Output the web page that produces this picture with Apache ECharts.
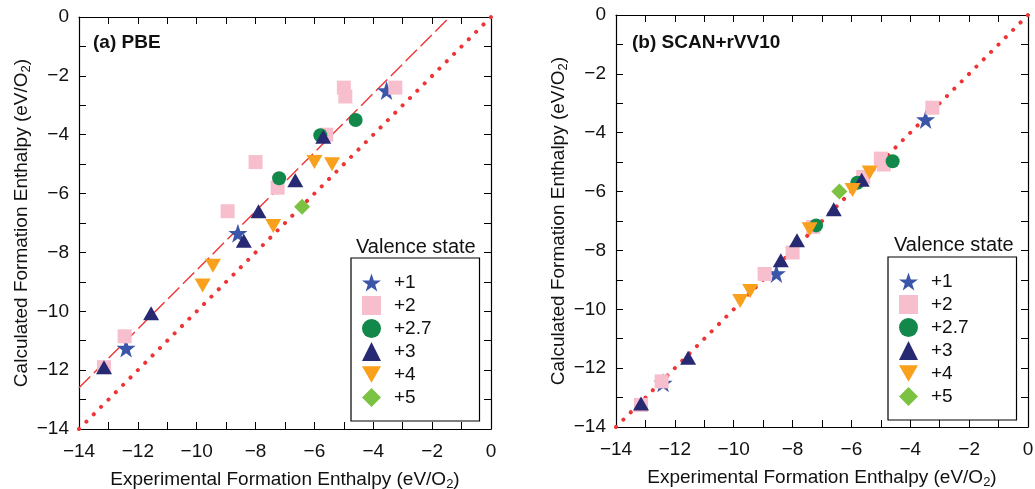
<!DOCTYPE html>
<html>
<head>
<meta charset="utf-8">
<script src="https://cdn.jsdelivr.net/npm/echarts@6.0.0/dist/echarts.min.js"></script>
<style>html,body{margin:0;padding:0;background:#fff;}#c{width:1035px;height:489px;}</style>
</head>
<body>
<div id="c"></div>
<script>
// ---- Data (experimental, calculated) in eV/O2 ----
const valenceNames = ['+1', '+2', '+2.7', '+3', '+4', '+5'];

// (a) PBE
const pbe_v1  = [[-3.55, -2.5], [-8.6, -7.35], [-12.4, -11.25]];
const pbe_v2  = [[-5.0, -2.4], [-4.95, -2.7], [-3.25, -2.4], [-5.6, -4.0], [-8.0, -4.93], [-7.25, -5.8], [-8.95, -6.6], [-12.45, -10.85], [-13.15, -11.9]];
const pbe_v27 = [[-4.6, -3.5], [-5.8, -4.02], [-7.2, -5.48]];
const pbe_v3  = [[-5.7, -4.07], [-6.65, -5.55], [-7.9, -6.6], [-8.4, -7.6], [-11.55, -10.07], [-13.15, -11.9]];
const pbe_v4  = [[-6.0, -4.93], [-5.4, -5.0], [-7.4, -7.1], [-9.45, -8.45], [-9.8, -9.12]];
const pbe_v5  = [[-6.42, -6.45]];

// (b) SCAN+rVV10
const scan_v1  = [[-3.48, -3.55], [-8.55, -8.78], [-12.4, -12.5]];
const scan_v2  = [[-3.25, -3.15], [-5.0, -4.88], [-4.9, -5.08], [-5.6, -5.5], [-7.3, -7.2], [-8.0, -8.07], [-8.95, -8.8], [-12.45, -12.45], [-13.15, -13.25]];
const scan_v27 = [[-4.6, -4.97], [-5.8, -5.7], [-7.2, -7.15]];
const scan_v3  = [[-5.65, -5.6], [-6.6, -6.6], [-7.85, -7.65], [-8.4, -8.33], [-11.55, -11.65], [-13.15, -13.2]];
const scan_v4  = [[-5.38, -5.35], [-5.96, -5.95], [-7.42, -7.28], [-9.44, -9.38], [-9.78, -9.72]];
const scan_v5  = [[-6.41, -6.0]];

// reference lines
const identityLine = [[-14, -14], [0, 0]];
const pbeShiftLine = [[-14, -12.6], [-1.4, 0]];

const axisMin = -14, axisMax = 0;

// ---- Styles ----
const FONT = 'Liberation Sans, Arial, Helvetica, sans-serif';
const STAR = 'path://M50,0 L61.8,35.3 L98.1,35.3 L68.8,57.1 L79.4,91.9 L50,70.5 L20.6,91.9 L31.2,57.1 L1.9,35.3 L38.2,35.3 Z';
const INVTRI = 'path://M0,0 L100,0 L50,88 Z';
const styles = [
  { symbol: STAR, size: 19, color: '#3b55a8' },
  { symbol: 'rect', size: 14, color: '#f7bfcd' },
  { symbol: 'circle', size: 14, color: '#12894a' },
  { symbol: 'triangle', size: [16, 14], color: '#272a72' },
  { symbol: INVTRI, size: [16, 14], color: '#f9a11d' },
  { symbol: 'diamond', size: [16, 16], color: '#7cc242' }
];

const pbeSets = [pbe_v1, pbe_v2, pbe_v27, pbe_v3, pbe_v4, pbe_v5];
const scanSets = [scan_v1, scan_v2, scan_v27, scan_v3, scan_v4, scan_v5];

function fmt(v) {
  if (Math.round(v) % 2 !== 0) return '';
  return String(v).replace('-', '\u2212');
}

const nameStyle = { fontFamily: FONT, fontSize: 19, color: '#111', rich: { s: { fontFamily: FONT, fontSize: 13, color: '#111', padding: [10, 0, 0, 0] } } };

function mainX(grid) {
  return {
    type: 'value', gridIndex: grid, min: axisMin, max: axisMax, interval: 1, position: 'bottom',
    name: 'Experimental Formation Enthalpy (eV/O{s|2})', nameLocation: 'middle', nameGap: 39,
    nameTextStyle: nameStyle,
    axisLine: { show: true, onZero: false, lineStyle: { color: '#000', width: 1.2 } },
    axisTick: { show: true, inside: true, length: 7, lineStyle: { color: '#000', width: 1 } },
    axisLabel: { formatter: fmt, fontFamily: FONT, fontSize: 19, color: '#111', margin: 13, showMinLabel: true, showMaxLabel: true, hideOverlap: false },
    splitLine: { show: false }
  };
}
function mainY(grid, gap) {
  return {
    type: 'value', gridIndex: grid, min: axisMin, max: axisMax, interval: 1, position: 'left',
    name: 'Calculated Formation Enthalpy (eV/O{s|2})', nameLocation: 'middle', nameGap: gap,
    nameTextStyle: nameStyle,
    axisLine: { show: true, onZero: false, lineStyle: { color: '#000', width: 1.2 } },
    axisTick: { show: true, inside: true, length: 7, lineStyle: { color: '#000', width: 1 } },
    axisLabel: { formatter: fmt, fontFamily: FONT, fontSize: 19, color: '#111', margin: 10, showMinLabel: true, showMaxLabel: true, hideOverlap: false },
    splitLine: { show: false }
  };
}
function mirror(grid, pos) {
  return {
    type: 'value', gridIndex: grid, min: axisMin, max: axisMax, interval: 1, position: pos,
    axisLine: { show: true, onZero: false, lineStyle: { color: '#000', width: 1.2 } },
    axisTick: { show: true, inside: true, length: 7, lineStyle: { color: '#000', width: 1 } },
    axisLabel: { show: false },
    splitLine: { show: false }
  };
}

const series = [];
function addPanel(sets, xi, yi, withShift) {
  series.push({
    type: 'line', xAxisIndex: xi, yAxisIndex: yi, data: identityLine, symbol: 'none', silent: true, z: 1,
    lineStyle: { color: '#ee3535', width: 4, type: [0.1, 10.3], cap: 'round' }
  });
  if (withShift) {
    series.push({
      type: 'line', xAxisIndex: xi, yAxisIndex: yi, data: pbeShiftLine, symbol: 'none', silent: true, z: 1,
      lineStyle: { color: '#ee3535', width: 1.4, type: [16, 5] }
    });
  }
  sets.forEach((d, i) => {
    const s = styles[i];
    series.push({
      type: 'scatter', name: valenceNames[i], xAxisIndex: xi, yAxisIndex: yi, data: d, z: 3,
      symbol: s.symbol, symbolSize: s.size, symbolKeepAspect: false,
      itemStyle: { color: s.color, opacity: 1 }
    });
  });
}
addPanel(pbeSets, 0, 0, true);
addPanel(scanSets, 2, 2, false);

function legendAt(left, top) {
  return {
    orient: 'vertical', left: left, top: top, data: valenceNames,
    itemWidth: 19, itemHeight: 19, itemGap: 4,
    padding: [15, 48, 14, 11],
    borderColor: '#000', borderWidth: 1.2, borderRadius: 0,
    textStyle: { fontFamily: FONT, fontSize: 19, color: '#111', padding: [0, 0, 0, 8] },
    selectedMode: false
  };
}

const option = {
  backgroundColor: '#fff',
  animation: false,
  grid: [
    { left: 79, right: 544, top: 17, bottom: 60, containLabel: false, outerBoundsMode: 'none' },
    { left: 616, right: 7, top: 15, bottom: 62, containLabel: false, outerBoundsMode: 'none' }
  ],
  xAxis: [mainX(0), mirror(0, 'top'), mainX(1), mirror(1, 'top')],
  yAxis: [mainY(0, 46), mirror(0, 'right'), mainY(1, 46), mirror(1, 'right')],
  title: [
    { text: '(a) PBE', left: 88, top: 28, textStyle: { fontFamily: FONT, fontSize: 19, fontWeight: 'bold', color: '#111' } },
    { text: '(b) SCAN+rVV10', left: 627, top: 28, textStyle: { fontFamily: FONT, fontSize: 19, fontWeight: 'bold', color: '#111' } },
    { text: 'Valence state', left: 351, top: 232, textStyle: { fontFamily: FONT, fontSize: 20, fontWeight: 'normal', color: '#111' } },
    { text: 'Valence state', left: 889, top: 230, textStyle: { fontFamily: FONT, fontSize: 20, fontWeight: 'normal', color: '#111' } }
  ],
  legend: [legendAt(351, 258), legendAt(888, 257)],
  series: series
};

const chart = echarts.init(document.getElementById('c'), null, { renderer: 'canvas' });
chart.setOption(option);
</script>
</body>
</html>
